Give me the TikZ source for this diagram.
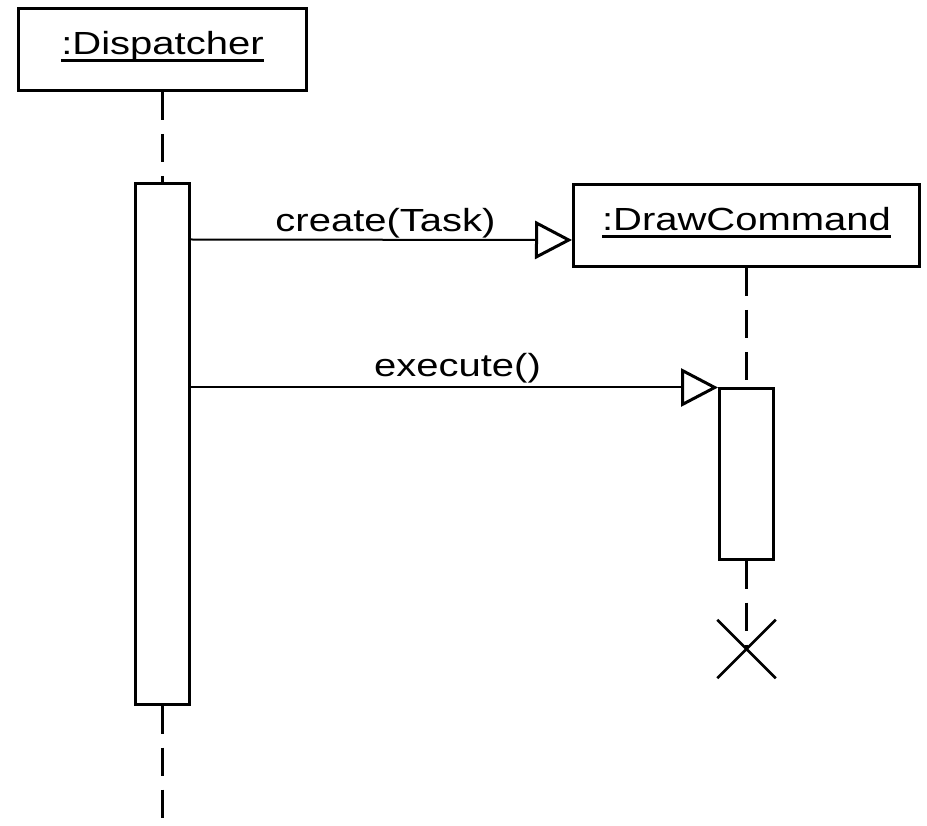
\documentclass[tikz,border=0pt]{standalone}
\usepackage{fontspec}
\usepackage{tikz}
\usetikzlibrary{arrows.meta, positioning, shapes.misc}
\newfontfamily\umlfont[FakeStretch=1.25]{Liberation Sans}
% underlined object name, rule crossing the descenders
\newcommand{\objname}[1]{\sbox0{#1}\rlap{\usebox0}\rule[-7pt]{\wd0}{2.5pt}}

\begin{document}
\begin{tikzpicture}[
  x=1pt, y=-1pt,
  objbox/.style={draw, line width=3pt, fill=white, font=\umlfont\fontsize{32}{38}\selectfont,
    text height=23pt, text depth=12pt, minimum height=82pt},
  actbar/.style={draw, line width=3pt, fill=white, minimum width=54pt, inner sep=0pt},
  lifeline/.style={line width=3pt, dash pattern=on 28pt off 14pt},
  msg/.style={line width=2pt, -{Triangle[open, length=37pt, width=38pt, line width=3pt, line join=miter]}},
  msglabel/.style={font=\umlfont\fontsize{32}{38}\selectfont, inner sep=0pt},
  destroy/.style={cross out, draw, line width=2.5pt, minimum size=56pt, inner sep=0pt}
]
\useasboundingbox (0,0) rectangle (927,826);

% Objects
\node[objbox, minimum width=288pt] (disp) at (162.5, 49.5) {\objname{:Dispatcher}};
\node[objbox, minimum width=346pt] (cmd)  at (746.5, 225.5) {\objname{:DrawCommand}};

% Activations
\node[actbar, minimum height=520pt] (act1) at (162.5, 444) {};
\node[actbar, minimum height=170pt] (act2) at (746.5, 474) {};

% Destruction of the command
\node[destroy] (kill) at (746.5, 649) {};
\coordinate (dispend) at (162.5, 826);

% Lifelines
\draw[lifeline] (disp.south) -- (act1.north);
\draw[lifeline] (act1.south) -- (dispend);
\draw[lifeline] (cmd.south) -- (act2.north);
\draw[lifeline] (act2.south) -- (kill.center);

% Messages
\draw[msg] ([yshift=-57pt]act1.north east) -- ([yshift=-14.5pt]cmd.west)
  node[msglabel, midway, above=0.5pt, xshift=4pt] (lcreate) {create(Task)};
\draw[msg] ([yshift=-205pt]act1.north east) -- (act2.north west)
  node[msglabel, midway, above=3pt, xshift=3pt] (lexec) {execute()};

\end{tikzpicture}
\end{document}
